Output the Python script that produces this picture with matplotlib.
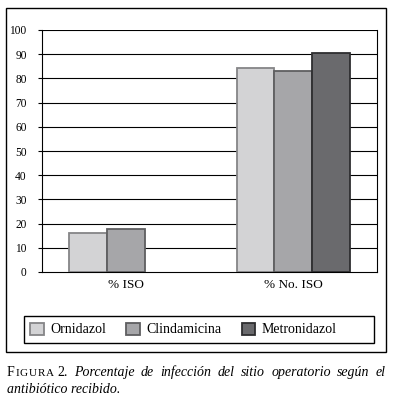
import matplotlib
matplotlib.use("Agg")
import matplotlib.pyplot as plt
from matplotlib.patches import Rectangle
import numpy as np

categories = ["% ISO", "% No. ISO"]
series_names = ["Ornidazol", "Clindamicina", "Metronidazol"]
ornidazol = [16.0, 84.2]
clindamicina = [17.6, 83.0]
metronidazol = [0.0, 90.6]
yticks = [0, 10, 20, 30, 40, 50, 60, 70, 80, 90, 100]

face_colors = ["#d3d3d5", "#a6a6a9", "#6a6a6d"]
edge_colors = ["#858587", "#5e5e60", "#2e2e30"]

serif = ["Liberation Serif", "DejaVu Serif"]
plt.rcParams["font.family"] = serif

W, H = 394, 405
fig = plt.figure(figsize=(W / 100, H / 100), dpi=100)
fig.patch.set_facecolor("white")

def fx(px):
    return px / W

def fy(py):
    return 1 - py / H

# outer frame
fig.patches.append(Rectangle((fx(6), fy(352)), fx(386) - fx(6), fy(8) - fy(352),
                             transform=fig.transFigure, fill=False,
                             edgecolor="black", linewidth=1.0))

ax = fig.add_axes([fx(42), fy(272), fx(377) - fx(42), fy(30) - fy(272)])
ax.set_xlim(-0.5, 1.5)
ax.set_ylim(0, 100)

for y in yticks[1:]:
    ax.axhline(y, color="black", linewidth=0.8, zorder=1)

x = np.arange(len(categories))
bw = 0.225
data = [ornidazol, clindamicina, metronidazol]
handles = []
for i, (vals, name) in enumerate(zip(data, series_names)):
    vals = np.array(vals, dtype=float)
    mask = vals > 0
    b = ax.bar((x + (i - 1) * bw)[mask], vals[mask], width=bw, color=face_colors[i],
               edgecolor=edge_colors[i], linewidth=1.3, label=name, zorder=3)
    handles.append(b)

ax.set_yticks(yticks)
ax.set_yticklabels([str(v) for v in yticks], fontsize=8.3)
ax.set_xticks(x)
ax.set_xticklabels(categories, fontsize=9.5)
ax.tick_params(axis="x", length=0, pad=5)
ax.tick_params(axis="y", direction="out", length=3, width=0.8, pad=8)
ax.yaxis.set_ticks_position("left")
for s in ["left", "bottom", "right"]:
    ax.spines[s].set_linewidth(0.8)
    ax.spines[s].set_color("black")
ax.spines["top"].set_visible(False)

# legend box
fig.patches.append(Rectangle((fx(24), fy(343)), fx(374) - fx(24), fy(316) - fy(343),
                             transform=fig.transFigure, fill=False,
                             edgecolor="black", linewidth=1.0))
leg = fig.legend(handles=handles, labels=series_names, loc="center left",
                 bbox_to_anchor=(fx(30), fy(329.5)), ncol=3, frameon=False,
                 fontsize=10, handlelength=1.0, handleheight=1.0,
                 handletextpad=0.45, columnspacing=1.45, borderpad=0,
                 borderaxespad=0)

# caption, justified first line
fig.canvas.draw()
renderer = fig.canvas.get_renderer()
line1_words = ["Porcentaje", "de", "infección", "del", "sitio", "operatorio", "según", "el"]
y1 = fy(376)
size = 10
t_f = fig.text(fx(7), y1, "F", fontsize=size, ha="left", va="baseline")
xpos = t_f.get_window_extent(renderer).x1 + 0.8
for ch in "IGURA":
    t = fig.text(xpos / W, y1, ch, fontsize=size * 0.8, ha="left", va="baseline")
    xpos = t.get_window_extent(renderer).x1 + 0.8
pieces = [fig.text(xpos / W + 3 / W, y1, "2.", fontsize=size, ha="left", va="baseline")]
for w in line1_words:
    pieces.append(fig.text(0, y1, w, fontsize=size, style="italic", ha="left", va="baseline"))
widths = [p.get_window_extent(renderer).width for p in pieces]
start = pieces[0].get_position()[0] * W
end = 386.0
gap = (end - start - sum(widths)) / (len(pieces) - 1)
pos = start
for p, wdt in zip(pieces, widths):
    p.set_position((pos / W, y1))
    pos += wdt + gap

fig.text(fx(7), fy(393), "antibiótico recibido.", fontsize=size, style="italic",
         ha="left", va="baseline")

fig.savefig("out.png", dpi=100)
